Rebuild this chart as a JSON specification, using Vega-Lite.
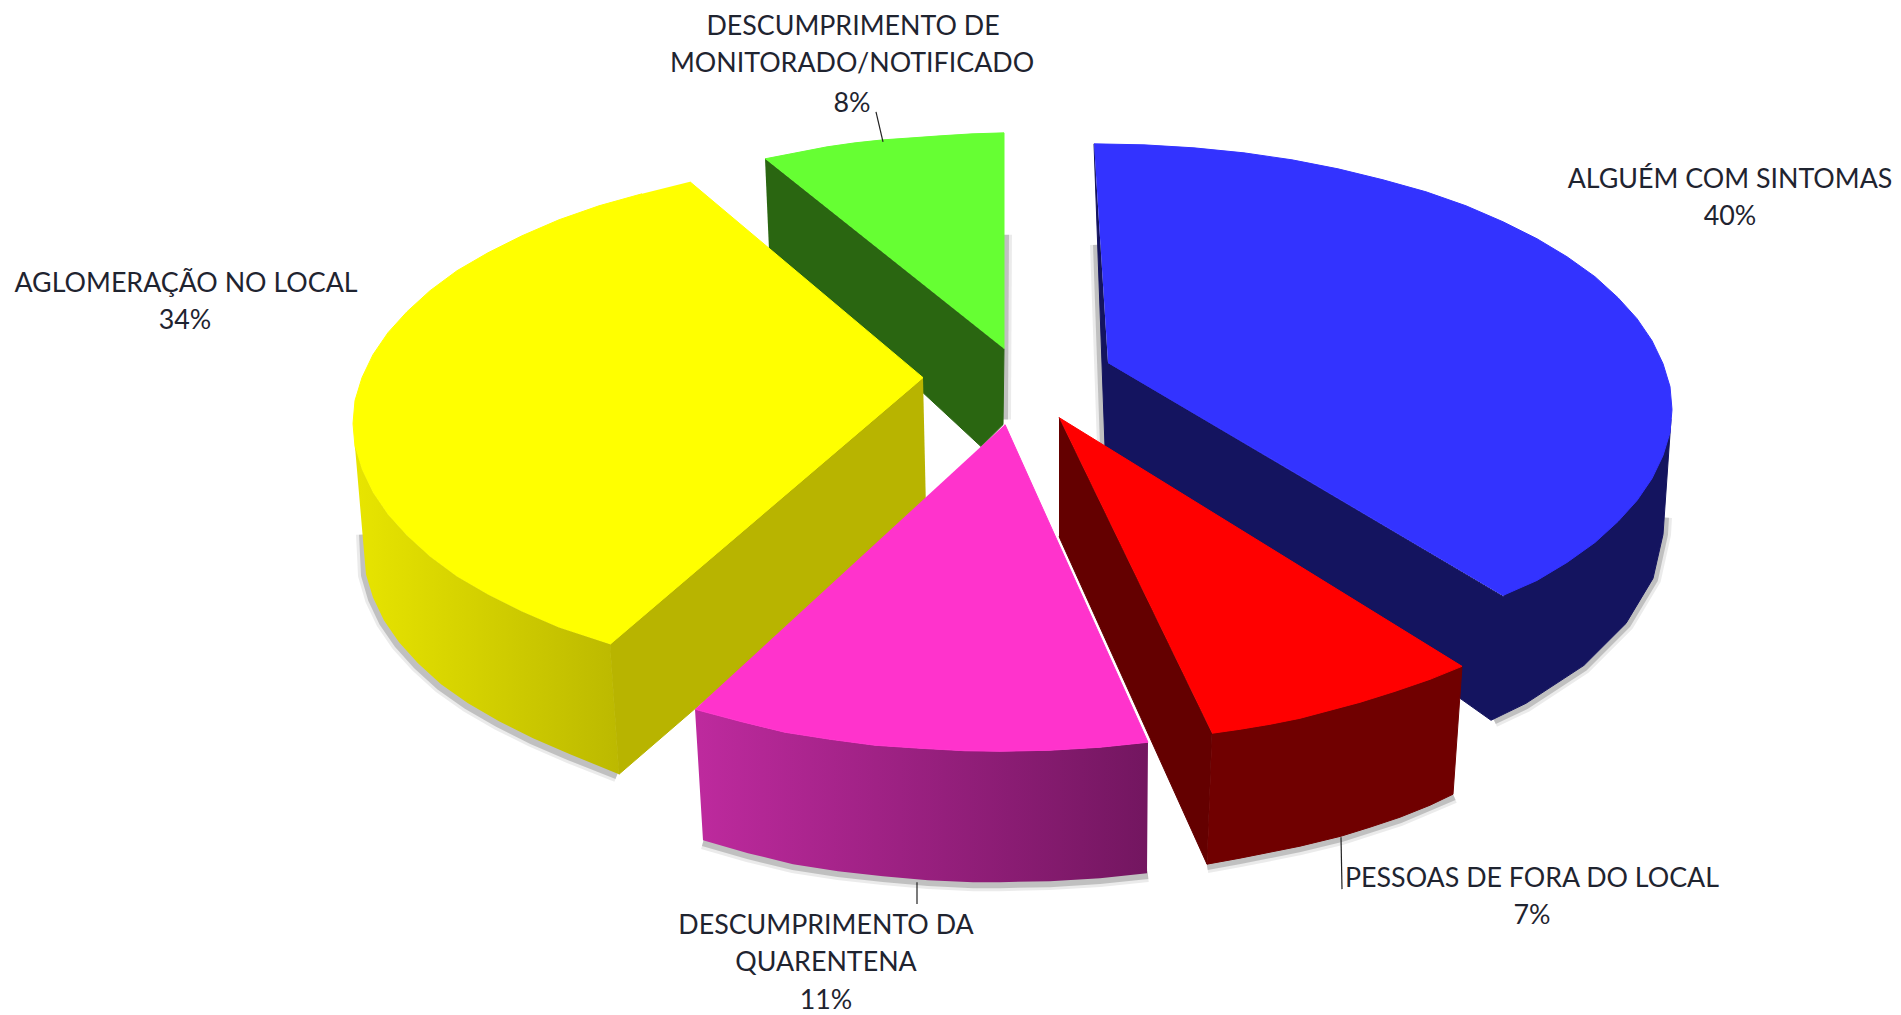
{"$schema":"https://vega.github.io/schema/vega-lite/v6.json","width":1901,"height":1015,"autosize":{"type":"fit","contains":"padding"},"padding":0,"background":"#ffffff","view":{"stroke":null},
"datasets":{
"faces":[
{"shape":"blue_wall","x":1094,"y":144},{"shape":"blue_wall","x":1105,"y":447},{"shape":"blue_wall","x":1491,"y":721},{"shape":"blue_wall","x":1526,"y":704},{"shape":"blue_wall","x":1584,"y":666},{"shape":"blue_wall","x":1626,"y":624},{"shape":"blue_wall","x":1653,"y":579},{"shape":"blue_wall","x":1663,"y":535},{"shape":"blue_wall","x":1671,"y":420},{"shape":"blue_wall","x":1503,"y":597},{"shape":"blue_wall","x":1108,"y":363},
{"shape":"blue_top","x":1094,"y":144},{"shape":"blue_top","x":1144,"y":145},{"shape":"blue_top","x":1194,"y":148},{"shape":"blue_top","x":1244,"y":153},{"shape":"blue_top","x":1292,"y":160},{"shape":"blue_top","x":1338,"y":169},{"shape":"blue_top","x":1383,"y":180},{"shape":"blue_top","x":1426,"y":192},{"shape":"blue_top","x":1466,"y":206},{"shape":"blue_top","x":1503,"y":222},{"shape":"blue_top","x":1537,"y":239},{"shape":"blue_top","x":1567,"y":257},{"shape":"blue_top","x":1595,"y":277},{"shape":"blue_top","x":1618,"y":298},{"shape":"blue_top","x":1637,"y":319},{"shape":"blue_top","x":1652,"y":341},{"shape":"blue_top","x":1663,"y":364},{"shape":"blue_top","x":1670,"y":387},{"shape":"blue_top","x":1672,"y":410},{"shape":"blue_top","x":1670,"y":433},{"shape":"blue_top","x":1663,"y":456},{"shape":"blue_top","x":1652,"y":479},{"shape":"blue_top","x":1637,"y":501},{"shape":"blue_top","x":1618,"y":522},{"shape":"blue_top","x":1595,"y":543},{"shape":"blue_top","x":1567,"y":563},{"shape":"blue_top","x":1537,"y":581},{"shape":"blue_top","x":1503,"y":596},{"shape":"blue_top","x":1108,"y":363},
{"shape":"green_wall","x":765,"y":159},{"shape":"green_wall","x":1004,"y":349},{"shape":"green_wall","x":1003,"y":425},{"shape":"green_wall","x":981,"y":447},{"shape":"green_wall","x":769,"y":250},
{"shape":"green_top","x":765,"y":159},{"shape":"green_top","x":796,"y":153},{"shape":"green_top","x":827,"y":147},{"shape":"green_top","x":855,"y":143},{"shape":"green_top","x":883,"y":140},{"shape":"green_top","x":912,"y":138},{"shape":"green_top","x":940,"y":136},{"shape":"green_top","x":972,"y":134},{"shape":"green_top","x":1004,"y":133},{"shape":"green_top","x":1004,"y":349},
{"shape":"yellow_wall","x":923,"y":378},{"shape":"yellow_wall","x":610,"y":645},{"shape":"yellow_wall","x":619,"y":775},{"shape":"yellow_wall","x":926,"y":510},
{"shape":"yellow_top","x":690,"y":182},{"shape":"yellow_top","x":923,"y":378},{"shape":"yellow_top","x":610,"y":645},{"shape":"yellow_top","x":559,"y":628},{"shape":"yellow_top","x":522,"y":612},{"shape":"yellow_top","x":488,"y":595},{"shape":"yellow_top","x":457,"y":577},{"shape":"yellow_top","x":430,"y":557},{"shape":"yellow_top","x":407,"y":536},{"shape":"yellow_top","x":388,"y":515},{"shape":"yellow_top","x":373,"y":493},{"shape":"yellow_top","x":362,"y":470},{"shape":"yellow_top","x":355,"y":447},{"shape":"yellow_top","x":353,"y":424},{"shape":"yellow_top","x":355,"y":401},{"shape":"yellow_top","x":362,"y":378},{"shape":"yellow_top","x":373,"y":355},{"shape":"yellow_top","x":388,"y":333},{"shape":"yellow_top","x":407,"y":312},{"shape":"yellow_top","x":430,"y":291},{"shape":"yellow_top","x":457,"y":271},{"shape":"yellow_top","x":488,"y":253},{"shape":"yellow_top","x":522,"y":236},{"shape":"yellow_top","x":559,"y":220},{"shape":"yellow_top","x":599,"y":206},{"shape":"yellow_top","x":642,"y":194},
{"shape":"red_inner","x":1059,"y":418},{"shape":"red_inner","x":1212,"y":734},{"shape":"red_inner","x":1207,"y":865},{"shape":"red_inner","x":1059,"y":537},
{"shape":"red_outer","x":1212,"y":734},{"shape":"red_outer","x":1240,"y":730},{"shape":"red_outer","x":1270,"y":725},{"shape":"red_outer","x":1300,"y":719},{"shape":"red_outer","x":1330,"y":711},{"shape":"red_outer","x":1360,"y":703},{"shape":"red_outer","x":1395,"y":692},{"shape":"red_outer","x":1430,"y":680},{"shape":"red_outer","x":1462,"y":667},{"shape":"red_outer","x":1453,"y":795},{"shape":"red_outer","x":1430,"y":806},{"shape":"red_outer","x":1400,"y":818},{"shape":"red_outer","x":1370,"y":828},{"shape":"red_outer","x":1341,"y":837},{"shape":"red_outer","x":1300,"y":847},{"shape":"red_outer","x":1270,"y":853},{"shape":"red_outer","x":1240,"y":859},{"shape":"red_outer","x":1207,"y":865},
{"shape":"red_top","x":1059,"y":418},{"shape":"red_top","x":1462,"y":667},{"shape":"red_top","x":1430,"y":680},{"shape":"red_top","x":1395,"y":692},{"shape":"red_top","x":1360,"y":703},{"shape":"red_top","x":1330,"y":711},{"shape":"red_top","x":1300,"y":719},{"shape":"red_top","x":1270,"y":725},{"shape":"red_top","x":1240,"y":730},{"shape":"red_top","x":1212,"y":734}
],
"yellowSide":[{"x":610,"y":645},{"x":619,"y":775},{"x":570,"y":755},{"x":533,"y":739},{"x":499,"y":722},{"x":468,"y":704},{"x":441,"y":685},{"x":418,"y":664},{"x":399,"y":643},{"x":384,"y":621},{"x":373,"y":598},{"x":366,"y":575},{"x":364,"y":552},{"x":353,"y":424},{"x":355,"y":447},{"x":362,"y":470},{"x":373,"y":493},{"x":388,"y":515},{"x":407,"y":536},{"x":430,"y":557},{"x":457,"y":577},{"x":488,"y":595},{"x":522,"y":612},{"x":559,"y":628}],
"pinkSide":[{"x":695,"y":710},{"x":703,"y":841},{"x":748,"y":854},{"x":793,"y":865},{"x":838,"y":872},{"x":883,"y":877},{"x":928,"y":881},{"x":973,"y":883},{"x":1000,"y":883},{"x":1050,"y":882},{"x":1100,"y":879},{"x":1147,"y":874},{"x":1148,"y":743},{"x":1100,"y":748},{"x":1050,"y":751},{"x":1000,"y":752},{"x":965,"y":751.5},{"x":920,"y":749},{"x":875,"y":746},{"x":830,"y":740},{"x":785,"y":733},{"x":740,"y":722}],
"pinkTop":[{"x":1005,"y":425},{"x":1148,"y":743},{"x":1100,"y":748},{"x":1050,"y":751},{"x":1000,"y":752},{"x":965,"y":751.5},{"x":920,"y":749},{"x":875,"y":746},{"x":830,"y":740},{"x":785,"y":733},{"x":740,"y":722},{"x":695,"y":710}],
"shadows":[
{"edge":"yellow","x":363,"y":535},{"edge":"yellow","x":365,"y":576},{"edge":"yellow","x":372,"y":600},{"edge":"yellow","x":383,"y":623},{"edge":"yellow","x":398,"y":645},{"edge":"yellow","x":417,"y":666},{"edge":"yellow","x":440,"y":687},{"edge":"yellow","x":467,"y":706},{"edge":"yellow","x":498,"y":724},{"edge":"yellow","x":532,"y":741},{"edge":"yellow","x":569,"y":757},{"edge":"yellow","x":617,"y":776},
{"edge":"pink","x":703,"y":843},{"edge":"pink","x":748,"y":856},{"edge":"pink","x":793,"y":867},{"edge":"pink","x":838,"y":874},{"edge":"pink","x":883,"y":879},{"edge":"pink","x":928,"y":883},{"edge":"pink","x":973,"y":885},{"edge":"pink","x":1000,"y":885},{"edge":"pink","x":1050,"y":884},{"edge":"pink","x":1100,"y":881},{"edge":"pink","x":1148,"y":876},
{"edge":"red","x":1207,"y":867},{"edge":"red","x":1240,"y":861},{"edge":"red","x":1300,"y":849},{"edge":"red","x":1341,"y":839},{"edge":"red","x":1400,"y":820},{"edge":"red","x":1454,"y":797},
{"edge":"blue","x":1494,"y":721},{"edge":"blue","x":1526,"y":706},{"edge":"blue","x":1584,"y":668},{"edge":"blue","x":1627,"y":625},{"edge":"blue","x":1654,"y":580},{"edge":"blue","x":1664,"y":535},{"edge":"blue","x":1665,"y":518},
{"edge":"blueLeft","x":1097,"y":245},{"edge":"blueLeft","x":1104,"y":447},
{"edge":"greenRight","x":1005,"y":235},{"edge":"greenRight","x":1004,"y":420}
],
"leaders":[
{"leader":"a","x":876,"y":112},{"leader":"a","x":883,"y":142},
{"leader":"b","x":917,"y":883},{"leader":"b","x":917,"y":905},
{"leader":"c","x":1341,"y":838},{"leader":"c","x":1342,"y":890}
],
"labels":[
{"text":"ALGUÉM COM SINTOMAS","x":1730,"y":180},{"text":"40%","x":1730,"y":217},
{"text":"DESCUMPRIMENTO  DE","x":853,"y":27},{"text":"MONITORADO/NOTIFICADO","x":852,"y":64},{"text":"8%","x":852,"y":104},
{"text":"AGLOMERAÇÃO NO LOCAL","x":186,"y":284},{"text":"34%","x":185,"y":321},
{"text":"DESCUMPRIMENTO  DA","x":826,"y":927},{"text":"QUARENTENA","x":826,"y":964},{"text":"11%","x":826,"y":1002},
{"text":"PESSOAS DE FORA DO LOCAL","x":1532,"y":880},{"text":"7%","x":1532,"y":917}
]},
"encoding":{
"x":{"field":"x","type":"quantitative","scale":{"domain":[0,1901],"nice":false,"zero":false},"axis":null},
"y":{"field":"y","type":"quantitative","scale":{"domain":[1015,0],"nice":false,"zero":false},"axis":null}
},
"layer":[
{"data":{"name":"shadows"},"mark":{"type":"line","stroke":"#000000","strokeWidth":14,"opacity":0.08,"strokeCap":"butt"},"encoding":{"detail":{"field":"edge"},"order":{"value":null}}},
{"data":{"name":"shadows"},"mark":{"type":"line","stroke":"#000000","strokeWidth":8,"opacity":0.18,"strokeCap":"butt"},"encoding":{"detail":{"field":"edge"},"order":{"value":null}}},
{"data":{"name":"faces"},"mark":{"type":"line","strokeWidth":1},"encoding":{
"detail":{"field":"shape"},"order":{"value":null},
"fill":{"field":"shape","type":"nominal","legend":null,"scale":{"domain":["blue_wall","blue_top","green_wall","green_top","yellow_wall","yellow_top","red_inner","red_outer","red_top"],"range":["#14145f","#3333ff","#2a6611","#66ff33","#b8b400","#ffff00","#640000","#700000","#ff0000"]}},
"stroke":{"field":"shape","type":"nominal","legend":null,"scale":{"domain":["blue_wall","blue_top","green_wall","green_top","yellow_wall","yellow_top","red_inner","red_outer","red_top"],"range":["#14145f","#3333ff","#2a6611","#66ff33","#b8b400","#ffff00","#640000","#700000","#ff0000"]}}
}},
{"data":{"name":"yellowSide"},"mark":{"type":"line","strokeWidth":0,"fill":{"gradient":"linear","x1":0,"y1":0,"x2":1,"y2":0,"stops":[{"offset":0,"color":"#e8e500"},{"offset":1,"color":"#bcb900"}]}},"encoding":{"order":{"value":null}}},
{"data":{"name":"pinkSide"},"mark":{"type":"line","strokeWidth":0,"fill":{"gradient":"linear","x1":0,"y1":0,"x2":1,"y2":0,"stops":[{"offset":0,"color":"#be2a9e"},{"offset":1,"color":"#731660"}]}},"encoding":{"order":{"value":null}}},
{"data":{"name":"pinkTop"},"mark":{"type":"line","stroke":"#ff33cc","strokeWidth":1,"fill":"#ff33cc"},"encoding":{"order":{"value":null}}},
{"data":{"name":"leaders"},"mark":{"type":"line","stroke":"#222222","strokeWidth":1.2},"encoding":{"detail":{"field":"leader"},"order":{"value":null}}},
{"data":{"name":"labels"},"mark":{"type":"text","font":"Lato","fontSize":26.8,"fill":"#1f2430","align":"center","baseline":"middle"},"encoding":{"text":{"field":"text"}}}
]}
